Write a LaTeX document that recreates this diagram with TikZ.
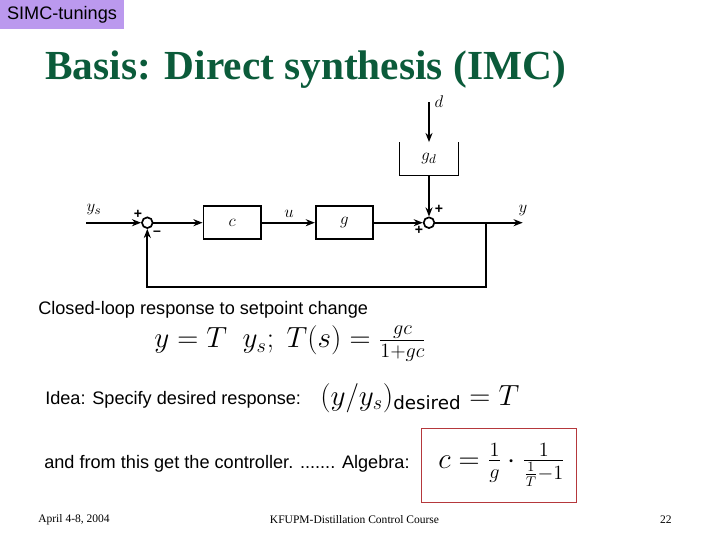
\documentclass[tikz,border=0pt]{standalone}
\usepackage{amsmath}
\usepackage{fontspec}
\setmainfont{Liberation Sans}
\newfontfamily\slidefont{Liberation Serif}
\newfontfamily\subfont{DejaVu Sans}
\usetikzlibrary{arrows.meta, positioning, calc}
\definecolor{tagpurple}{HTML}{BB99EE}
\definecolor{titlegreen}{HTML}{0B5B3A}
\definecolor{boxred}{HTML}{B5383C}
\newcommand{\sizept}[1]{\fontsize{#1}{#1}\selectfont}

\tikzset{
  blockbox/.style={draw, line width=1.2pt, minimum width=41pt, minimum height=23.4pt, inner sep=0pt, font=\sizept{13}},
  sumnode/.style={draw, circle, line width=1.2pt, minimum size=7.6pt, inner sep=0pt, fill=white},
  sig/.style={-{Stealth[length=6.5pt,width=5pt]}, line width=1.2pt},
  signame/.style={inner sep=0pt, font=\sizept{13}},
  sign/.style={inner sep=0pt, font=\sizept{10}\bfseries},
  bodytext/.style={inner sep=0pt, anchor=west, font=\sizept{12.9}},
  eqn/.style={inner sep=0pt, anchor=west, font=\sizept{20}},
  foot/.style={inner sep=0pt, font=\slidefont\sizept{8.2}}
}

\begin{document}
\begin{tikzpicture}[x=0.025cm, y=-0.025cm, >=Stealth]
  \useasboundingbox (0,0) rectangle (720,540);

  % slide heading
  \node[fill=tagpurple, minimum width=3.1cm, minimum height=0.725cm, inner sep=0pt,
        font=\sizept{12.9}] (tag) at (62,14.5) {SIMC-tunings};
  \node[text=titlegreen, inner sep=0pt, anchor=west, font=\slidefont\bfseries\sizept{29.4}]
    (title) at (45,70) {Basis: Direct synthesis (IMC)};

  % block diagram
  \coordinate (in) at (86,222.7);
  \node[sumnode] (s1) at (147.3,222.7) {};
  \node[blockbox] (c) at (232.2,222.7) {$c$};
  \node[blockbox] (g) at (344.5,222.7) {$g$};
  \node[sumnode] (s2) at (429,222.7) {};
  \coordinate (out) at (522.7,222.7);
  \coordinate (tap) at (485.7,222.7);
  \coordinate (low) at (485.7,286.7);
  \coordinate (back) at (147.3,286.7);
  \node[minimum width=41pt, minimum height=23.4pt, inner sep=0pt, font=\sizept{13}] (gd) at (429,158.8) {$g_d$};
  \coordinate (dist) at (429,102.3);

  \draw[line width=0.8pt] (gd.north west) -- (gd.south west) -- (gd.south east) -- (gd.north east);
  \draw[sig] (in) -- (s1);
  \draw[sig] (s1) -- (c);
  \draw[sig] (c) -- (g);
  \draw[sig] (g) -- (s2);
  \draw[sig] (s2) -- (out);
  \draw[sig] (dist) -- (gd.north);
  \draw[sig] (gd) -- (s2);
  \draw[sig] (tap) -- (low) -- (back) -- (s1);

  \node[signame] (lys) at (94,210) {$y_s$};
  \node[signame] (lu) at (289,214) {$u$};
  \node[signame] (ly) at (523,211) {$y$};
  \node[signame] (ld) at (439,102) {$d$};
  \node[sign] (p1) at (138,214) {+};
  \node[sign] (m1) at (157,233) {--};
  \node[sign] (p2) at (439,209) {+};
  \node[sign] (p3) at (419,230) {+};

  % text lines
  \node[bodytext] (closed) at (38,310) {Closed-loop response to setpoint change};
  \node[eqn] (eqT) at (154,344) {$y = T\ \ y_s;\ T(s) = \frac{gc}{1{+}gc}$};
  \node[bodytext] (idea) at (45,400) {Idea: Specify desired response:};
  \node[eqn] (eqdes) at (320,398) {$(y/y_s)_{\mbox{\subfont\sizept{13}desired}} = T$};
  \node[bodytext] (algebra) at (44,464) {and from this get the controller. ....... Algebra:};
  \node[draw=boxred, line width=0.7pt, minimum width=3.85cm, minimum height=1.85cm] (result) at (499,465) {};
  \node[eqn] (eqc) at (438,465) {$c = \frac{1}{g}\cdot\frac{1}{\frac{1}{T}-1}$};

  % footer
  \node[foot, anchor=west] (date) at (38,520) {April 4-8, 2004};
  \node[foot] (course) at (354.5,520) {KFUPM-Distillation Control Course};
  \node[foot, anchor=east] (page) at (672,520) {22};
\end{tikzpicture}
\end{document}
